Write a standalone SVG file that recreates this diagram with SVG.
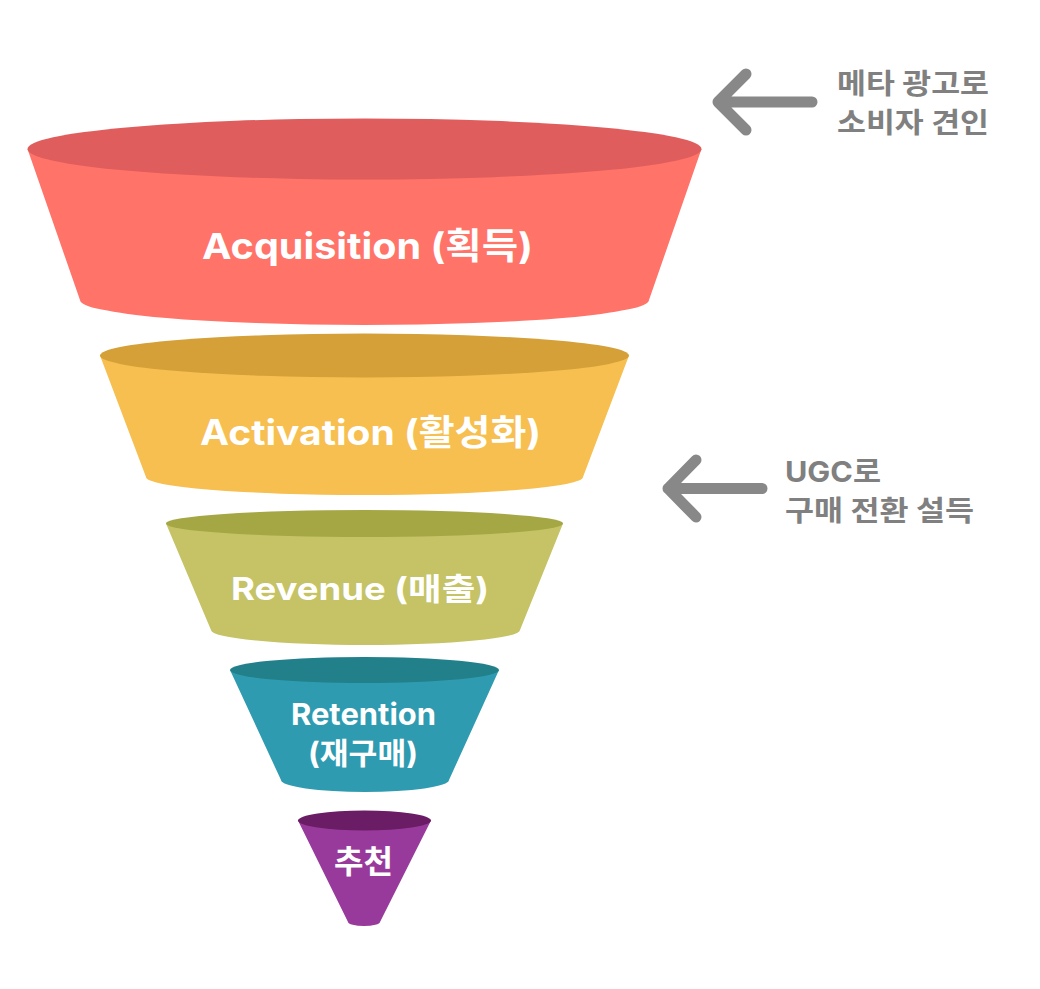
<svg xmlns="http://www.w3.org/2000/svg" width="1040" height="989" viewBox="0 0 1040 989">
<style>
.lbl{font-family:Inter,"Noto Sans CJK KR",sans-serif;font-weight:700;fill:#fff;text-anchor:middle}
.note{font-family:Inter,"Noto Sans CJK KR",sans-serif;font-weight:700;fill:#808080;font-size:28px}
.arr{fill:none;stroke:#888;stroke-width:11;stroke-linecap:round;stroke-linejoin:round}
</style>
<rect width="1040" height="989" fill="#fff"/>
<g id="stage-acquisition">
<path d="M27.5,149 L80,300 A284.5,25 0 0 0 649,300 L701.5,149 Z" fill="#FF7369"/>
<ellipse cx="364.5" cy="149" rx="337" ry="30.5" fill="#E05D5D"/>
<text class="lbl" x="367.5" y="259" font-size="36" textLength="331" lengthAdjust="spacingAndGlyphs">Acquisition (획득)</text>
</g>
<g id="stage-activation">
<path d="M100,355.5 L146,477 A218.5,18 0 0 0 583,477 L629,355.5 Z" fill="#F7BE50"/>
<ellipse cx="364.5" cy="355.5" rx="264.5" ry="22" fill="#D4A037"/>
<text class="lbl" x="370.5" y="445" font-size="35" textLength="341" lengthAdjust="spacingAndGlyphs">Activation (활성화)</text>
</g>
<g id="stage-revenue">
<path d="M166,523.5 L211,630 A154.5,15 0 0 0 520,630 L563,523.5 Z" fill="#C5C365"/>
<ellipse cx="364.5" cy="523.5" rx="198.5" ry="13.5" fill="#A5A745"/>
<text class="lbl" x="360" y="600" font-size="31" textLength="258" lengthAdjust="spacingAndGlyphs">Revenue (매출)</text>
</g>
<g id="stage-retention">
<path d="M230,670 L281,780 A84,12 0 0 0 449,780 L499,670 Z" fill="#2F9BB0"/>
<ellipse cx="364.5" cy="670" rx="134.5" ry="13" fill="#21808A"/>
<text class="lbl" x="363.5" y="725" font-size="30" textLength="145" lengthAdjust="spacingAndGlyphs">Retention</text>
<text class="lbl" x="363" y="764" font-size="30" textLength="110" lengthAdjust="spacingAndGlyphs">(재구매)</text>
</g>
<g id="stage-referral">
<path d="M298,820.5 L348,922 A16,4 0 0 0 380,922 L431,820.5 Z" fill="#983A9C"/>
<ellipse cx="364.5" cy="820.5" rx="66.5" ry="10" fill="#6A1C64"/>
<text class="lbl" x="363.5" y="873" font-size="32" textLength="59" lengthAdjust="spacingAndGlyphs">추천</text>
</g>
<g id="connectors">
<path class="arr" d="M812,102 H718 M746,74 L718,102 L746,130"/>
<path class="arr" d="M762,488.5 H668 M696,460 L668,488.5 L696,517"/>
</g>
<g id="note-acquisition">
<text class="note" x="837" y="94" textLength="152" lengthAdjust="spacingAndGlyphs">메타 광고로</text>
<text class="note" x="837" y="133" textLength="152" lengthAdjust="spacingAndGlyphs">소비자 견인</text>
</g>
<g id="note-revenue">
<text class="note" x="785" y="482" textLength="96" lengthAdjust="spacingAndGlyphs">UGC로</text>
<text class="note" x="785" y="521" textLength="189" lengthAdjust="spacingAndGlyphs">구매 전환 설득</text>
</g>
</svg>
